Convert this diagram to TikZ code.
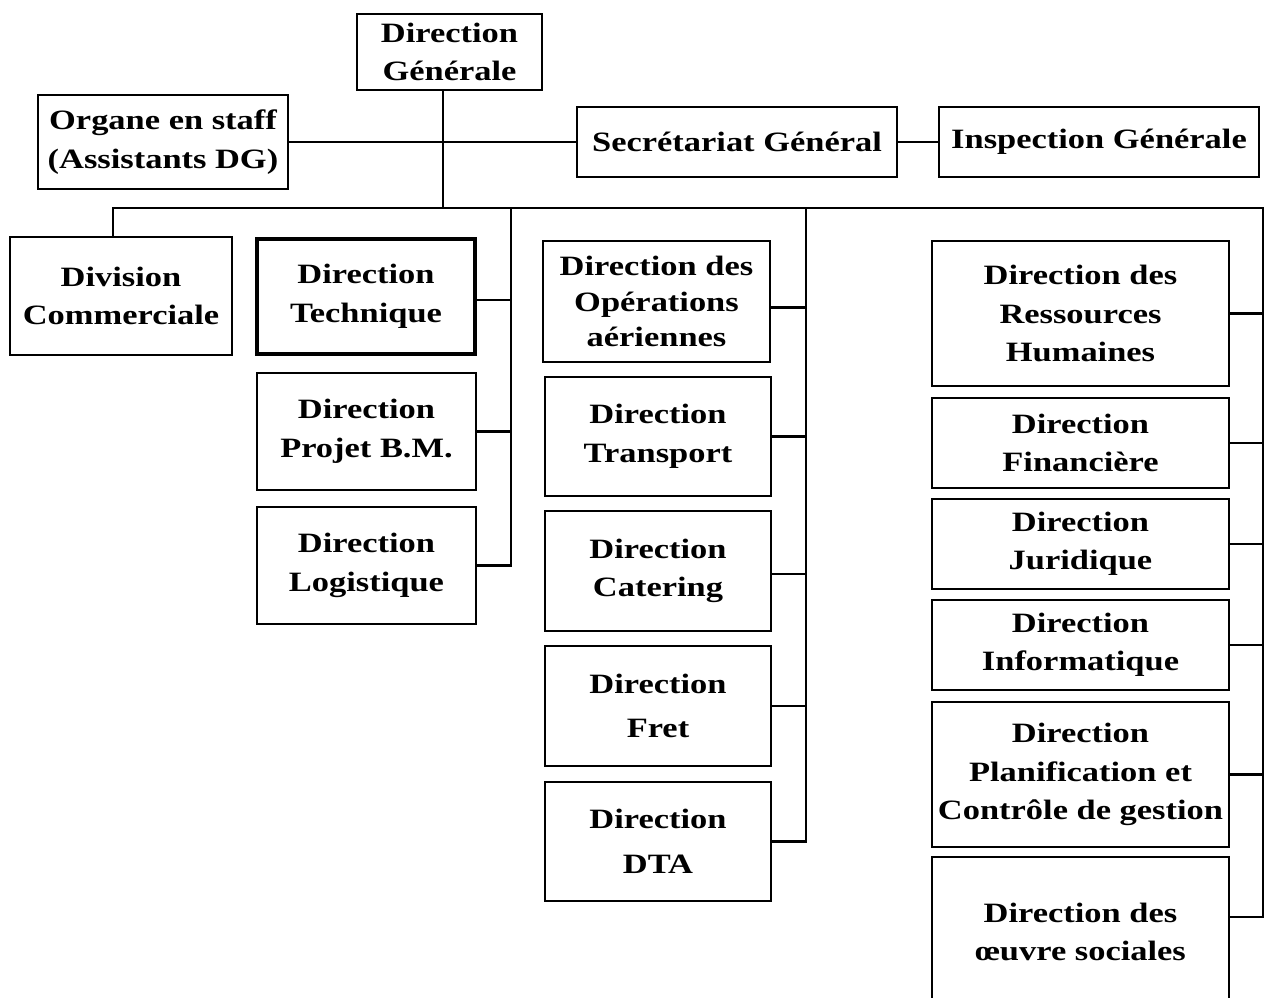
\documentclass[tikz,border=0pt]{standalone}
\usepackage{fontspec}
\setmainfont{Liberation Serif}[FakeStretch=1.23]
\begin{document}
\begin{tikzpicture}[x=1pt,y=-1pt,
  box/.style={draw, line width=2.8pt, inner sep=0pt, align=center,
    font=\fontsize{28}{38.5}\selectfont\bfseries},
  conn/.style={line width=2.8pt}]
\useasboundingbox (0,0) rectangle (1266,997);
\begin{scope}
\clip (0,0) rectangle (1266,997);
% top level
\node[box, minimum width=185, minimum height=76] (dg) at (449.5,52) {Direction\\Générale};
\node[box, minimum width=250, minimum height=94] (org) at (163,142) {Organe en staff\\(Assistants DG)};
\node[box, minimum width=320, minimum height=70] (sec) at (737,142) {Secrétariat Général};
\node[box, minimum width=320, minimum height=70] (insp) at (1099,142) {Inspection Générale};
% column 1
\node[box, minimum width=222, minimum height=118] (dc) at (121,296) {Division\\Commerciale};
% column 2
\node[box, line width=4.2pt, minimum width=218, minimum height=115] (tech) at (366,296.5) {Direction\\Technique};
\node[box, minimum width=219, minimum height=117] (proj) at (366.5,431.5) {Direction\\Projet B.M.};
\node[box, minimum width=219, minimum height=117] (log) at (366.5,565.5) {Direction\\Logistique};
% column 3
\node[box, minimum width=227, minimum height=121] (op) at (656.5,301.5) {Direction des\\[-3pt]Opérations\\[-3pt]aériennes};
\node[box, minimum width=226, minimum height=119] (tr) at (658,436.5) {Direction\\Transport};
\node[box, minimum width=226, minimum height=120] (cat) at (658,571) {Direction\\Catering};
\node[box, minimum width=226, minimum height=120] (fret) at (658,706) {Direction\\[5pt]Fret};
\node[box, minimum width=226, minimum height=119] (dta) at (658,841.5) {Direction\\[6pt]DTA};
% column 4
\node[box, minimum width=297, minimum height=145] (rh) at (1080.5,313.5) {Direction des\\Ressources\\Humaines};
\node[box, minimum width=297, minimum height=90] (fin) at (1080.5,443) {Direction\\Financière};
\node[box, minimum width=297, minimum height=90] (jur) at (1080.5,544) {Direction\\Juridique};
\node[box, minimum width=297, minimum height=90] (inf) at (1080.5,645) {Direction\\Informatique};
\node[box, minimum width=297, minimum height=145] (plan) at (1080.5,774.5) {Direction\\Planification et\\Contrôle de gestion};
\node[box, minimum width=297, minimum height=150] (oeu) at (1080.5,932) {Direction des\\œuvre sociales};
% coordinates
\coordinate (trunk) at (443,208);
\coordinate (busL) at (113,208);
\coordinate (c2) at (511,208);
\coordinate (c3) at (806,208);
\coordinate (busR) at (1263,208);
\coordinate (c4end) at (1263,917);
% connectors
\draw[conn] (trunk |- dg.south) -- (trunk);
\draw[conn] (org.east) -- (sec.west);
\draw[conn] (sec.east) -- (insp.west);
\draw[conn] (busL |- dc.north) -- (busL) -- (busR) -- (c4end) -- (c4end -| oeu.east);
\draw[conn] (c2) -- (c2 |- log.east) -- (log.east);
\draw[conn] ([yshift=-3.5pt]tech.east) -- ([yshift=-3.5pt]tech.east -| c2);
\draw[conn] (proj.east) -- (proj.east -| c2);
\draw[conn] (c3) -- (c3 |- dta.east) -- (dta.east);
\draw[conn] ([yshift=-6pt]op.east) -- ([yshift=-6pt]op.east -| c3);
\draw[conn] (tr.east) -- (tr.east -| c3);
\draw[conn] ([yshift=-3pt]cat.east) -- ([yshift=-3pt]cat.east -| c3);
\draw[conn] (fret.east) -- (fret.east -| c3);
\draw[conn] (rh.east) -- (rh.east -| busR);
\draw[conn] (fin.east) -- (fin.east -| busR);
\draw[conn] (jur.east) -- (jur.east -| busR);
\draw[conn] (inf.east) -- (inf.east -| busR);
\draw[conn] (plan.east) -- (plan.east -| busR);
\end{scope}
\end{tikzpicture}
\end{document}
